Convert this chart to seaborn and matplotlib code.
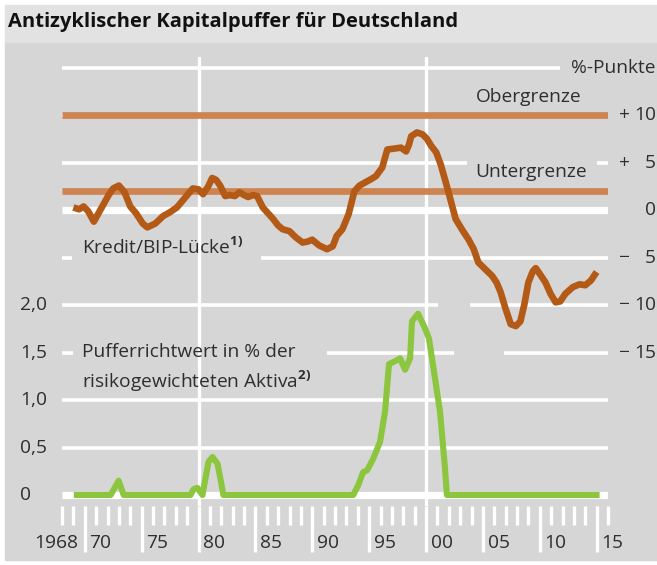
import matplotlib
matplotlib.use("Agg")
import matplotlib.pyplot as plt
import matplotlib.transforms as mtransforms
from matplotlib.patches import Rectangle
import seaborn as sns

# Kredit/BIP-Lücke in %-Punkten (rechte Skala)
gap_years = [1969.0, 1969.5, 1969.9, 1970.3, 1970.8, 1971.4, 1972.1, 1972.5, 1973.0, 1973.5,
             1974.0, 1974.5, 1975.1, 1975.5, 1976.2, 1976.9, 1977.5, 1978.1, 1978.8, 1979.5,
             1980.0, 1980.4, 1980.85, 1981.2, 1981.55, 1981.9, 1982.35, 1982.75, 1983.2, 1983.6,
             1984.0, 1984.35, 1984.8, 1985.15, 1985.65, 1986.1, 1986.55, 1987.0, 1987.4, 1988.0,
             1988.5, 1989.15, 1989.6, 1990.0, 1990.6, 1991.3, 1991.8, 1992.15, 1992.65, 1993.2,
             1993.7, 1994.15, 1994.6, 1995.2, 1995.6, 1996.15, 1996.6, 1997.2, 1997.8, 1998.25,
             1998.5, 1998.7, 1999.2, 1999.7, 2000.1, 2000.45, 2000.9, 2001.3, 2001.75, 2002.2,
             2002.6, 2003.15, 2003.75, 2004.2, 2004.6, 2005.2, 2005.8, 2006.2, 2006.55, 2007.0,
             2007.45, 2007.9, 2008.3, 2008.65, 2009.0, 2009.4, 2009.65, 2010.0, 2010.5, 2010.95,
             2011.4, 2011.8, 2012.25, 2012.9, 2013.5, 2014.0, 2014.5, 2015.0]
gap_values = [0.3, 0.1, 0.4, -0.1, -1.2, 0.1, 1.6, 2.3, 2.6, 1.9,
              0.4, -0.3, -1.4, -1.8, -1.4, -0.6, -0.2, 0.3, 1.3, 2.3,
              2.2, 1.7, 2.5, 3.4, 3.2, 2.6, 1.5, 1.6, 1.5, 1.9,
              1.6, 1.4, 1.6, 1.5, 0.3, -0.3, -0.9, -1.6, -2.0, -2.2,
              -2.8, -3.4, -3.3, -3.1, -3.7, -4.1, -3.8, -2.7, -2.0, -0.4,
              2.0, 2.6, 2.9, 3.3, 3.6, 4.5, 6.4, 6.5, 6.6, 6.2,
              6.9, 7.8, 8.2, 8.0, 7.5, 6.8, 6.1, 4.8, 2.9, 0.9,
              -0.9, -2.0, -3.1, -4.1, -5.5, -6.2, -6.9, -7.6, -8.6, -10.4,
              -12.0, -12.2, -11.7, -9.9, -7.6, -6.4, -6.1, -6.7, -7.6, -8.8,
              -9.7, -9.6, -8.8, -8.1, -7.8, -7.9, -7.4, -6.5]

# Pufferrichtwert in % der risikogewichteten Aktiva (linke Skala)
buffer_years = [1969.04, 1972.28, 1972.98, 1973.42, 1979.3, 1979.56, 1979.9, 1980.35, 1980.88, 1981.23,
                1981.67, 1981.93, 1982.19, 1993.6, 1994.03, 1994.47, 1994.82, 1995.35, 1995.96, 1996.4,
                1996.75, 1997.28, 1997.72, 1998.16, 1998.6, 1998.77, 1999.3, 1999.9, 2000.26, 2000.79,
                2001.23, 2001.67, 2001.84, 2015.26]
buffer_values = [0, 0, 0.15, 0, 0, 0.06, 0.075, 0, 0.35, 0.40,
                 0.33, 0.17, 0, 0, 0.1, 0.24, 0.26, 0.38, 0.56, 0.88,
                 1.38, 1.41, 1.44, 1.32, 1.44, 1.83, 1.91, 1.76, 1.65, 1.23,
                 0.88, 0.28, 0, 0]

upper_limit = 10
lower_limit = 2

year_ticks = list(range(1968, 2017))
label_years = [1970, 1975, 1980, 1985, 1990, 1995, 2000, 2005, 2010, 2015]
label_texts = ["70", "75", "80", "85", "90", "95", "00", "05", "10", "15"]
left_ticks = [0, 0.5, 1.0, 1.5, 2.0]
left_labels = ["0", "0,5", "1,0", "1,5", "2,0"]
right_ticks = [10, 5, 0, -5, -10, -15]
right_signs = ["+", "+", "", "\u2212", "\u2212", "\u2212"]
right_numbers = ["10", "5", "0", "5", "10", "15"]

W, H = 657, 565
ORANGE = "#b45a17"
LIMIT = "#cd8450"
GREEN = "#8cc63f"
GRAY = "#d6d6d6"
BAND = "#e2e2e2"
TXT = "#2e2e2e"

plt.rcParams["font.family"] = "Open Sans"
plt.rcParams["mathtext.fontset"] = "custom"
plt.rcParams["mathtext.rm"] = "Open Sans"
plt.rcParams["mathtext.bf"] = "Open Sans:bold"


def fx(px):
    return px / W


def fy(py):
    return 1 - py / H


fig = plt.figure(figsize=(W / 100, H / 100), dpi=100)
fig.patch.set_facecolor("white")
fig.patches.append(Rectangle((fx(5), fy(560)), fx(657) - fx(5), (560 - 42) / H,
                             transform=fig.transFigure, color=GRAY, zorder=-2))
fig.patches.append(Rectangle((fx(5), fy(42)), fx(657) - fx(5), (42 - 5) / H,
                             transform=fig.transFigure, color=BAND, zorder=-2))
fig.text(fx(8), fy(22), "Antizyklischer Kapitalpuffer für Deutschland",
         fontsize=14.5, fontweight="bold", color="#111111", va="center", ha="left")

# left axis: Pufferrichtwert; the right axis shares the same grid (r = (b - 3) * 10)
ax = fig.add_axes([fx(62), fy(506), (608 - 62) / W, (506 - 57) / H])
ylo, yhi = -0.116, 4.615
ax.set_xlim(1968, 2016)
ax.set_ylim(ylo, yhi)
ax.set_facecolor("none")
for s in ax.spines.values():
    s.set_visible(False)
ax.set_yticks([])
ax.set_xticks(label_years)
ax.set_xticks(year_ticks, minor=True)
ax.tick_params(axis="x", which="major", direction="out", length=33, width=2.4,
               color="white", labelbottom=False)
ax.tick_params(axis="x", which="minor", direction="out", length=13.5, width=2.4,
               color="white")

# white grid, interrupted where the chart leaves room
full = [(1968, 2016)]
grid_segments = {
    4.5: [(1968, 2011.75)],
    4.0: full,
    3.5: [(1968, 2003.6), (2015.0, 2016)],
    3.0: full,
    2.5: [(1968, 1968.9), (1985.5, 2016)],
    2.0: [(1968, 2001.05), (2003.85, 2016)],
    1.5: [(1968, 1968.95), (1991.3, 2002.5), (2006.9, 2016)],
    1.0: full,
    0.5: full,
    0.0: full,
}
for level, segs in grid_segments.items():
    lw = 5.2 if level in (0.0, 3.0) else 2.6
    for x0, x1 in segs:
        ax.hlines(level, x0, x1, color="white", lw=lw, zorder=1, capstyle="butt")
for yr in (1980, 2000):
    ax.axvline(yr, color="white", lw=2.4, zorder=1)

sns.lineplot(x=buffer_years, y=buffer_values, ax=ax, color=GREEN, linewidth=4.4,
             estimator=None, sort=False, zorder=3, solid_joinstyle="round",
             solid_capstyle="butt")
ax.set_xlabel("")
ax.set_ylabel("")

ax2 = ax.twinx()
ax2.set_ylim((ylo - 3) * 10, (yhi - 3) * 10)
ax2.set_xlim(1968, 2016)
ax2.set_facecolor("none")
for s in ax2.spines.values():
    s.set_visible(False)
ax2.set_yticks([])
for lim in (upper_limit, lower_limit):
    ax2.hlines(lim, 1968, 2016, color=LIMIT, lw=4.8, zorder=2, capstyle="butt")
sns.lineplot(x=gap_years, y=gap_values, ax=ax2, color=ORANGE, linewidth=4.8,
             estimator=None, sort=False, zorder=3, solid_joinstyle="round",
             solid_capstyle="butt")
ax2.set_ylabel("")

fs = 13.8
ax2.text(2004.4, 11.9, "Obergrenze", fontsize=fs, color=TXT, va="center")
ax2.text(2004.3, 4.0, "Untergrenze", fontsize=fs, color=TXT, va="center")
ax2.text(fx(656), 15.0, "%-Punkte", fontsize=fs, color=TXT, va="center", ha="right",
         transform=mtransforms.blended_transform_factory(fig.transFigure, ax2.transData))
ax2.text(1969.8, -3.9, r"Kredit/BIP-Lücke$^{\mathbf{1)}}$", fontsize=fs, color=TXT, va="center")
ax.text(1969.8, 1.507, "Pufferrichtwert in % der", fontsize=fs, color=TXT, va="center")
ax.text(1969.8, 1.2, r"risikogewichteten Aktiva$^{\mathbf{2)}}$", fontsize=fs, color=TXT, va="center")

# tick labels
tx = mtransforms.blended_transform_factory(ax.transData, ax.transAxes)
ax.text(1969.45, -0.082, "1968", transform=tx, fontsize=fs, color=TXT, ha="right", va="center")
for yr, lab in zip(label_years, label_texts):
    ax.text(yr + 0.42, -0.082, lab, transform=tx, fontsize=fs, color=TXT, ha="left", va="center")

tl = mtransforms.blended_transform_factory(fig.transFigure, ax.transData)
for v, lab in zip(left_ticks, left_labels):
    ax.text(fx(20), v, lab, transform=tl, fontsize=fs, color=TXT, ha="left", va="center")

tr = mtransforms.blended_transform_factory(fig.transFigure, ax2.transData)
for v, sgn, num in zip(right_ticks, right_signs, right_numbers):
    if sgn:
        ax2.text(fx(619), v, sgn, transform=tr, fontsize=fs, color=TXT, ha="left", va="center")
    ax2.text(fx(656), v, num, transform=tr, fontsize=fs, color=TXT, ha="right", va="center")

fig.savefig("out.png", dpi=100)
